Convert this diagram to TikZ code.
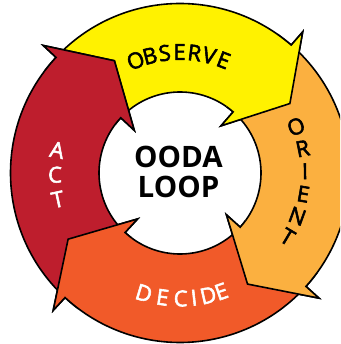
\documentclass[tikz,border=0pt]{standalone}
\usepackage{fontspec}
\setmainfont{Open Sans}
\newfontfamily\lblfont[FakeBold=2.5]{Open Sans}
\definecolor{cyel}{HTML}{FFF200}
\definecolor{cora}{HTML}{FBB040}
\definecolor{cdec}{HTML}{F15A29}
\definecolor{cact}{HTML}{BE1E2D}
\tikzset{
  ring/.style={draw=black, line width=1.6pt, line join=miter},
  lbl/.style={font=\lblfont\fontsize{22}{22}\selectfont, inner sep=0pt,
    text height=15.7pt, text depth=0pt, anchor=center},
  centre/.style={font=\bfseries\fontsize{29.5}{30}\selectfont, align=center, inner sep=0pt}
}
\newcommand\ooArrow[3]{%
  \path[ring, fill=#1] (#2:169.5pt) arc[start angle=#2, end angle=#3, radius=169.5pt]
    -- (#3:187pt) -- ({#3-16.7}:130pt) -- (#3:62.5pt) -- (#3:81pt)
    arc[start angle=#3, end angle=#2, radius=81pt] -- cycle;}
\newcommand\ooHead[2]{%
  \path[ring, fill=#1] ({#2+6}:169.5pt) arc[start angle={#2+6}, end angle=#2, radius=169.5pt]
    -- (#2:187pt) -- ({#2-16.7}:130pt) -- (#2:62.5pt) -- (#2:81pt)
    arc[start angle=#2, end angle={#2+6}, radius=81pt];}
\begin{document}
\begin{tikzpicture}
\useasboundingbox (-180pt,-171pt) rectangle (160pt,173pt);
\clip (-180pt,-171pt) rectangle (160pt,173pt);
\fill[white] (-180pt,-171pt) rectangle (160pt,173pt);
% bands
\ooArrow{cyel}{134}{49}
\ooArrow{cora}{46}{-42}
\ooArrow{cdec}{-45}{-132.7}
\ooArrow{cact}{-135.7}{-223}
% heads on top
\ooHead{cyel}{49}
\ooHead{cora}{-42}
\ooHead{cdec}{-132.7}
\ooHead{cact}{-223}
% labels
\foreach \l/\a [count=\i] in {O/111.5,B/104.4,S/97.3,E/90.2,R/83.1,V/76,E/68.9}
  \node[lbl, rotate=\a-90] (obs\i) at (\a:121pt) {\l};
\foreach \l/\a [count=\i] in {O/21.8,R/11.3,I/0.8,E/-9.7,N/-20.2,T/-30.7}
  \node[lbl, rotate=\a] (ori\i) at (\a:125pt) {\l};
\foreach \l/\a [count=\i] in {D/253.3,E/262,C/270.3,I/276.4,D/283,E/289.2}
  \node[lbl, text=white, rotate=\a-270] (dec\i) at (\a:125.5pt) {\l};
\foreach \l/\a [count=\i] in {A/169.4,C/180.8,T/192.2}
  \node[lbl, text=white, rotate=\a-180] (act\i) at (\a:125pt) {\l};
\node[centre] (ooda) at (-1.5pt,1pt) {OODA\\LOOP};
\end{tikzpicture}
\end{document}
